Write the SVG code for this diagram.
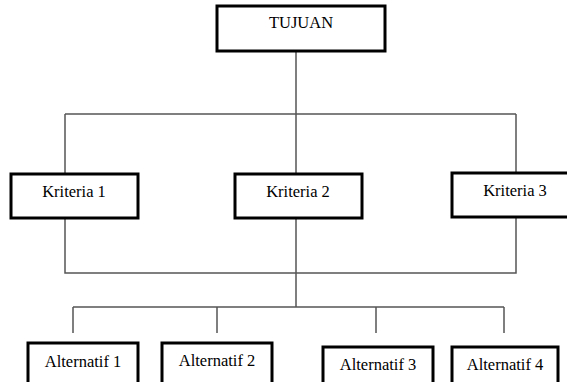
<svg xmlns="http://www.w3.org/2000/svg" width="567" height="382" viewBox="0 0 567 382">
<style>
.box{fill:#fff;stroke:#000;stroke-width:3}
.ln{fill:none;stroke:#555;stroke-width:1.5}
text{font-family:"Liberation Serif","Times New Roman",serif;font-size:16.5px;fill:#000;text-anchor:middle}
</style>
<rect width="567" height="382" fill="#fff"/>
<g id="connectors">
<path class="ln" d="M296,51 V114 M65,114 H516 M65,114 V173 M296,114 V173 M516,114 V173"/>
<path class="ln" d="M65,218 V273 H516 V218 M296,218 V307"/>
<path class="ln" d="M73,307 H504 M73,307 V333 M217,307 V333 M376,307 V333 M504,307 V333"/>
</g>
<g id="tujuan"><rect class="box" x="217" y="6" width="168" height="45"/><text x="301" y="28">TUJUAN</text></g>
<g id="kriteria1"><rect class="box" x="11" y="174" width="127" height="44"/><text x="74" y="197">Kriteria 1</text></g>
<g id="kriteria2"><rect class="box" x="235" y="174" width="127" height="44"/><text x="298" y="197">Kriteria 2</text></g>
<g id="kriteria3"><rect class="box" x="452" y="173" width="128" height="44"/><text x="515" y="196">Kriteria 3</text></g>
<g id="alt1"><rect class="box" x="28" y="343" width="110" height="45"/><text x="83" y="367">Alternatif 1</text></g>
<g id="alt2"><rect class="box" x="162" y="343" width="110" height="45"/><text x="217" y="366">Alternatif 2</text></g>
<g id="alt3"><rect class="box" x="323" y="347" width="110" height="45"/><text x="378" y="370">Alternatif 3</text></g>
<g id="alt4"><rect class="box" x="452" y="347" width="106" height="45"/><text x="505" y="370">Alternatif 4</text></g>
</svg>
